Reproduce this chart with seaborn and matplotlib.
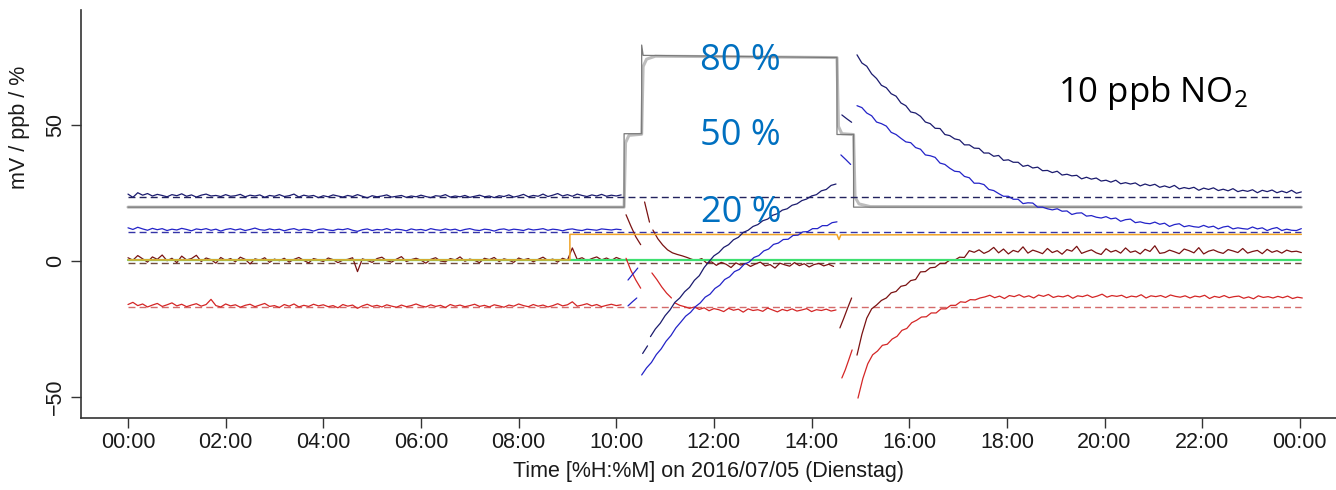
import numpy as np
import pandas as pd
import matplotlib
matplotlib.use("Agg")
import matplotlib.pyplot as plt
import seaborn as sns

# ---------------- data (hours of day, mV / ppb / %) ----------------
navy_base = [24.6,23.4,25.1,24.2,24.8,23.9,24.5,24.1,23.6,24.4,
             24.0,24.7,23.8,24.3,23.5,24.2,24.6,23.9,24.1,23.7,
             24.4,23.8,24.0,24.5,23.6,24.2,23.9,24.3,23.4,24.1,
             23.8,24.4,23.7,24.0,24.6,23.5,24.2,23.8,24.1,23.3,
             24.0,23.6,24.3,23.9,23.5,24.1,23.7,24.4,23.8,23.2,
             24.0,23.6,23.9,24.3,23.5,23.8,24.1,23.4,23.9,23.6,
             24.2,23.7,23.3,24.0,23.8,24.4,23.5,23.9,23.6,24.1,
             23.4,23.8,24.2,23.6,23.9,23.3,24.0,23.7,24.3,23.5,
             23.9,24.5,23.6,24.1,23.8,24.6,23.7,24.2,24.8,23.9,
             24.4,23.8,24.6,24.1,23.7,24.3,23.9,24.5,23.8,24.2,
             23.9,24.3]
navy_dash = [-34.0, -32.6, -31.2]
navy_rise = [-27.8,-25.0,-22.9,-20.1,-18.0,-15.2,-13.6,-11.3,-9.7,-7.1,
             -5.4,-2.4,-0.2,1.9,3.1,5.0,6.0,7.8,8.7,10.5,
             11.3,12.7,13.4,14.8,15.4,16.8,17.4,18.7,19.2,20.5,
             21.0,22.2,22.8,23.9,24.4,25.8,26.3,27.8,28.3]
navy_step = [53.7, 52.3, 51.0]
navy_decay = [75.8,72.8,71.6,68.8,67.1,64.6,63.7,61.5,60.6,58.1,
              57.1,54.8,54.4,53.2,51.1,50.5,48.8,48.7,46.5,46.1,
              44.9,44.5,42.7,42.7,41.5,41.4,39.7,39.7,38.5,38.8,
              37.0,37.2,36.3,36.3,34.8,35.2,34.2,34.5,33.2,33.3,
              32.5,33.0,31.6,31.9,31.3,31.5,30.2,30.8,30.1,30.5,
              29.4,29.7,29.0,29.7,28.4,28.8,28.3,28.7,27.6,28.3,
              27.7,28.2,27.1,27.6,27.0,27.8,26.5,27.0,26.6,27.1,
              26.0,26.8,26.3,26.9,25.9,26.4,25.8,26.6,25.5,26.0,
              25.6,26.2,25.1,26.0,25.5,26.1,25.1,25.7,25.1,26.0,
              24.9,25.4]

blue_base = [12.2,11.6,12.4,11.8,11.3,12.0,11.5,11.9,11.2,11.7,
             11.4,12.0,11.6,11.1,11.8,11.5,11.9,11.3,11.7,11.0,
             11.6,11.9,11.4,11.8,11.2,11.6,12.1,11.5,11.3,11.8,
             11.4,11.7,11.1,11.6,11.9,11.3,11.7,11.5,11.0,11.6,
             11.8,11.4,11.2,11.7,11.5,11.9,11.3,10.9,11.5,11.8,
             11.2,11.6,11.4,11.9,11.3,11.7,11.5,11.1,11.8,11.4,
             11.6,11.2,11.9,11.5,11.3,11.8,11.4,11.7,11.1,11.6,
             11.9,11.4,11.2,11.7,11.5,11.0,11.6,11.8,11.3,11.7,
             11.5,11.2,11.8,11.4,11.6,11.9,11.3,11.7,11.5,11.1,
             11.6,11.8,11.4,11.2,11.7,11.5,11.3,11.8,11.6,11.4,
             11.7,11.5]
blue_dip_a = [-7.0, -4.8, -2.6]
blue_dip_b = [-16.5, -15.0, -13.6]
blue_rise = [-41.9,-39.3,-37.3,-34.4,-32.3,-29.5,-27.4,-24.6,-22.5,-20.3,
             -18.9,-16.8,-15.4,-13.3,-12.2,-10.1,-8.9,-6.8,-5.8,-3.9,
             -3.1,-1.2,-0.4,1.3,2.0,3.7,4.4,6.1,6.6,7.9,
             8.0,9.4,9.5,10.7,10.8,11.9,11.9,13.0,13.0,14.1,14.4]
blue_step = [39.0, 37.3, 35.5]
blue_decay = [57.1,56.4,54.4,53.4,51.1,50.5,49.6,47.3,46.5,45.1,
              43.8,43.5,41.7,41.1,39.0,38.7,38.1,36.0,35.5,34.1,
              33.0,32.8,31.1,30.6,28.6,28.6,28.1,26.3,25.9,24.8,
              23.8,23.8,22.7,22.7,21.1,21.4,21.3,19.8,19.8,19.2,
              18.8,19.2,18.3,18.4,17.1,17.6,17.7,16.5,16.7,16.1,
              15.8,16.3,15.5,15.8,14.6,15.2,15.4,14.1,14.4,13.9,
              13.7,14.3,13.5,13.9,12.7,13.4,13.7,12.6,13.0,12.6,
              12.4,13.1,12.4,12.8,11.8,12.5,12.8,11.8,12.2,11.9,
              11.7,12.5,11.8,12.2,11.2,11.9,12.3,11.2,11.7,11.3,
              11.2,11.9]

brown_base = [1.2,0.3,2.0,0.8,-0.4,1.5,0.6,2.2,0.1,1.0,
              -0.6,1.8,0.4,0.9,2.1,-0.2,1.1,0.5,-0.8,1.3,
              0.2,0.9,-0.3,1.4,0.6,-1.1,0.8,0.3,1.2,-0.5,
              0.7,0.1,1.0,-0.4,0.6,1.3,0.2,-0.7,0.9,0.4,
              -0.2,1.1,0.5,-0.6,0.3,0.6,1.2,-3.9,0.8,0.2,
              -0.5,0.9,1.4,0.1,-0.4,0.7,1.6,-0.2,0.5,1.0,
              0.3,-0.8,0.6,1.2,0.0,-0.3,0.9,0.4,1.5,-0.1,
              0.7,0.2,-0.6,1.0,0.5,1.3,-0.2,0.8,0.3,-0.5,
              1.1,0.4,0.9,-0.3,0.6,1.4,0.2,0.7,-0.4,1.0,
              0.3,4.8,0.6,1.2,0.1,0.9,1.5,0.4,1.1,0.2,
              1.3,0.6]
brown_jump1 = [17.0, 12.8, 8.9, 6.0]
brown_jump2 = [21.7, 18.0, 14.3]
brown_settle = [11.4,8.2,5.9,4.1,3.0,2.4,1.9,1.3,0.6,0.2,
                0.9,-0.8,-0.3,-1.6,-0.5,-1.2,-2.4,-0.7,-1.5,-0.9,
                -2.0,-1.1,-0.4,-1.8,-1.3,-2.6,-0.8,-1.4,-1.9,-0.6,
                -1.7,-1.0,-2.2,-1.3,-0.9,-1.8,-1.2,-2.0]
brown_step = [-24.6, -21.0, -17.2, -13.6]
brown_recover = [-34.6,-27.0,-21.0,-17.6,-16.2,-14.5,-13.6,-11.7,-11.2,-9.3,
                 -8.9,-7.2,-6.8,-4.0,-3.9,-2.5,-2.3,-0.9,-0.9,0.3,
                 0.3,1.4,1.3,3.8,
                 3.2,4.1,2.8,3.6,5.0,3.0,4.4,2.6,3.9,3.3,
                 5.2,2.9,4.0,3.4,2.7,4.6,3.1,3.8,2.5,4.2,
                 3.6,5.4,2.8,3.5,4.1,3.0,2.4,4.5,3.3,3.9,
                 2.9,4.8,3.2,3.7,2.6,4.3,3.5,5.6,2.8,3.1,
                 4.0,3.4,2.7,4.4,3.8,3.0,4.9,2.6,3.6,4.1,
                 3.3,2.8,4.2,3.7,3.1,4.6,2.9,3.5,3.9,2.7,
                 4.3,3.2,3.8,2.9,4.0,3.4,3.6,3.1]

red_base = [-16.0,-15.2,-16.4,-15.8,-16.9,-16.2,-15.6,-16.7,-16.1,-15.4,
            -16.5,-15.9,-16.8,-16.2,-15.7,-16.6,-16.0,-14.1,-16.4,-16.9,
            -15.8,-16.5,-16.1,-17.0,-16.3,-15.9,-16.8,-16.2,-15.6,-16.7,
            -16.4,-17.1,-16.0,-16.6,-15.8,-16.9,-16.3,-16.7,-15.9,-16.5,
            -16.1,-16.8,-16.4,-17.2,-16.0,-16.6,-16.2,-17.4,-16.5,-15.9,
            -16.7,-16.3,-16.9,-16.1,-16.6,-17.0,-16.2,-16.8,-16.4,-15.8,
            -16.5,-16.9,-16.1,-16.7,-16.3,-17.1,-16.0,-16.6,-16.2,-16.8,
            -16.4,-15.9,-16.7,-16.3,-16.9,-16.1,-16.5,-17.0,-16.2,-16.6,
            -15.8,-16.4,-16.8,-16.0,-16.6,-16.2,-16.9,-16.4,-15.7,-16.5,
            -16.1,-15.0,-16.6,-16.2,-15.7,-16.5,-16.0,-16.8,-16.3,-15.9,
            -16.4,-16.1]
red_jump1 = [1.0, -3.5, -7.0, -10.0]
red_jump2 = [-4.4, -6.8, -9.5, -11.8, -13.6]
red_settle = [-15.4,-16.3,-16.8,-17.4,-16.9,-17.8,-17.2,-18.3,-17.5,-17.9,
              -18.6,-17.4,-18.1,-17.7,-18.8,-17.6,-18.2,-17.9,-18.5,-17.3,
              -18.0,-18.7,-17.8,-18.3,-17.6,-18.4,-18.0,-17.5,-18.6,-17.9,
              -18.2,-17.7,-18.4,-18.0]
red_step = [-43.0, -40.0, -36.4, -32.7]
red_recover = [-50.4,-43.2,-37.8,-34.5,-33.1,-31.0,-30.6,-28.7,-27.7,-25.5,
               -24.8,-22.7,-21.8,-20.6,-20.5,-19.1,-19.1,-17.6,-17.6,-16.3,
               -16.3,-15.0,-15.2,-14.2,-14.3,-13.6,
               -13.2,-12.6,-13.5,-12.9,-13.8,-12.7,-13.1,-12.4,-13.3,-12.8,
               -13.6,-12.5,-13.0,-12.3,-13.4,-12.9,-13.2,-12.6,-13.7,-12.8,
               -13.1,-12.5,-13.4,-12.9,-12.2,-13.3,-12.7,-13.0,-12.6,-13.5,
               -12.9,-13.2,-12.4,-13.6,-12.8,-13.1,-12.7,-13.4,-12.5,-13.0,
               -13.3,-12.8,-13.6,-12.9,-13.2,-12.6,-13.8,-13.0,-13.4,-12.7,
               -13.5,-13.1,-12.9,-13.7,-13.2,-13.9,-12.8,-13.4,-13.1,-13.6,
               -13.0,-13.5,-12.9,-13.8,-13.3,-13.6]

# relative humidity (grey), NO2 set point (orange), green reference
gray_t = [0.0, 10.16, 10.16, 10.52, 10.52, 10.55, 14.52, 14.52, 14.86, 14.86, 24.03]
gray_v = [19.8, 19.8, 46.8, 46.8, 79.4, 75.6, 74.8, 46.5, 46.5, 19.8, 19.8]
gray_soft_t = [0.0, 10.16, 10.19, 10.26, 10.52, 10.55, 10.62, 10.8, 14.52, 14.55,
               14.62, 14.86, 14.89, 14.97, 15.2, 24.03]
gray_soft_v = [19.8, 19.8, 43.5, 46.2, 46.6, 71.5, 74.2, 75.3, 74.8, 49.5,
               46.8, 46.5, 23.5, 21.0, 20.0, 19.8]
orange_t = [0.0, 9.05, 9.05, 14.52, 14.56, 14.6, 24.03]
orange_v = [0.4, 0.4, 9.8, 9.7, 7.9, 9.6, 9.8]
green_t = [0.0, 24.03]
green_v = [0.5, 0.5]

# dashed reference levels
ref_names = ["navy", "blue", "brown", "red"]
ref_levels = [23.6, 10.8, -0.8, -16.9]
ref_span = [0.0, 24.03]

pct_labels = ["80 %", "50 %", "20 %"]
pct_levels = [70.2, 42.6, 14.3]
xtick_hours = [0, 2, 4, 6, 8, 10, 12, 14, 16, 18, 20, 22, 24]
xtick_labels = ["00:00", "02:00", "04:00", "06:00", "08:00", "10:00", "12:00",
                "14:00", "16:00", "18:00", "20:00", "22:00", "00:00"]
ytick_vals = [-50, 0, 50]
ytick_labels = ["\u221250", "0", "50"]

# segment table: (series, start hour, sample step in hours, values)
segments = [
    ("navy", 0.0, 0.1, navy_base), ("navy", 10.54, 0.05, navy_dash),
    ("navy", 10.7, 0.1, navy_rise), ("navy", 14.62, 0.1, navy_step),
    ("navy", 14.93, 0.1, navy_decay),
    ("blue", 0.0, 0.1, blue_base), ("blue", 10.24, 0.1, blue_dip_a),
    ("blue", 10.24, 0.09, blue_dip_b), ("blue", 10.52, 0.1, blue_rise),
    ("blue", 14.6, 0.1, blue_step), ("blue", 14.93, 0.1, blue_decay),
    ("brown", 0.0, 0.1, brown_base), ("brown", 10.2, 0.1, brown_jump1),
    ("brown", 10.58, 0.05, brown_jump2), ("brown", 10.75, 0.1, brown_settle),
    ("brown", 14.58, 0.08, brown_step), ("brown", 14.93, 0.1, brown_recover),
    ("red", 0.0, 0.1, red_base), ("red", 10.2, 0.1, red_jump1),
    ("red", 10.73, 0.1, red_jump2), ("red", 11.2, 0.1, red_settle),
    ("red", 14.62, 0.07, red_step), ("red", 14.95, 0.1, red_recover),
]

rows = []
for i, (name, t0, dt, vals) in enumerate(segments):
    for k, v in enumerate(vals):
        rows.append((name, i, t0 + dt * k, v))
df = pd.DataFrame(rows, columns=["series", "seg", "t", "v"])

colors = {"navy": "#1b1b6e", "blue": "#2323c8", "brown": "#7a1212", "red": "#d42626"}
dash_colors = {"navy": "#23235e", "blue": "#3434a8", "brown": "#6e4a3e", "red": "#d46a6a"}

# ---------------- figure ----------------
sns.set_theme(style="white")
plt.rcParams["font.family"] = ["Liberation Sans", "DejaVu Sans"]
plt.rcParams["mathtext.fontset"] = "custom"
plt.rcParams["mathtext.rm"] = "Open Sans"
plt.rcParams["mathtext.default"] = "regular"

fig = plt.figure(figsize=(13.36, 4.9), dpi=100)
ax = fig.add_axes([81 / 1336, 72 / 490, 1255 / 1336, 408 / 490])

# grey humidity steps
sns.lineplot(x=gray_soft_t, y=gray_soft_v, ax=ax, color="#bdbdbd", linewidth=2.2,
             estimator=None, sort=False)
sns.lineplot(x=gray_t, y=gray_v, ax=ax, color="#7a7a7a", linewidth=0.9,
             estimator=None, sort=False)

# dashed reference lines
for name, lvl in zip(ref_names, ref_levels):
    sns.lineplot(x=ref_span, y=[lvl, lvl], ax=ax, color=dash_colors[name],
                 linewidth=1.0, linestyle=(0, (5, 3)), estimator=None)

# sensor signals
sns.lineplot(data=df[df.series == "brown"], x="t", y="v", units="seg", estimator=None,
             sort=False, color=colors["brown"], linewidth=0.9, ax=ax)
sns.lineplot(x=green_t, y=green_v, ax=ax, color="#3ee070", linewidth=1.6, estimator=None)
sns.lineplot(x=orange_t, y=orange_v, ax=ax, color="#f0a428", linewidth=1.1,
             estimator=None, sort=False)
for name in ["red", "blue", "navy"]:
    sns.lineplot(data=df[df.series == name], x="t", y="v", units="seg", estimator=None,
                 sort=False, color=colors[name], linewidth=0.9, ax=ax)

# annotations
for lab, lvl in zip(pct_labels, pct_levels):
    ax.text(12.55, lvl, lab, ha="center", va="baseline", fontsize=26,
            color="#0070c0", family=["Open Sans", "DejaVu Sans"])
ax.text(19.05, 58.6, "10 ppb NO$_2$", ha="left", va="baseline", fontsize=25,
        color="black", family=["Open Sans", "DejaVu Sans"])

# axes styling
ax.set_xlim(-0.9625, 24.74)
ax.set_ylim(-57.72, 92.28)
ax.set_xticks(xtick_hours)
ax.set_xticklabels(xtick_labels)
ax.set_yticks(ytick_vals)
ax.set_yticklabels(ytick_labels)
ax.tick_params(axis="both", which="major", direction="out", length=7, width=1.0,
               color="#333333", labelsize=15.5, labelcolor="#1a1a1a",
               bottom=True, left=True)
ax.tick_params(axis="x", pad=3.0)
ax.tick_params(axis="y", pad=4.0, labelrotation=90)
for lab in ax.get_yticklabels():
    lab.set_va("center")
sns.despine(ax=ax)
for side in ["left", "bottom"]:
    ax.spines[side].set_color("#333333")
    ax.spines[side].set_linewidth(1.2)

ax.set_xlabel("Time [%H:%M] on 2016/07/05 (Dienstag)", fontsize=15.5, color="#1a1a1a",
              labelpad=6)
ax.set_ylabel("mV / ppb / %", fontsize=15.5, color="#1a1a1a")
ax.yaxis.set_label_coords((30 - 81) / 1255, (418 - 127) / 408)

fig.savefig("out.png", dpi=100, facecolor="white")
